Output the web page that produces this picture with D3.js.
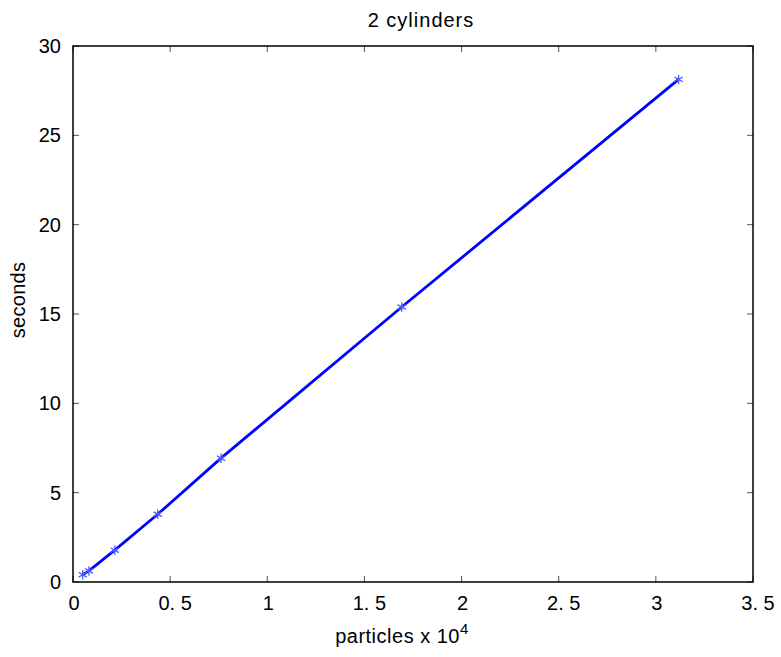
<!DOCTYPE html>
<html><head><meta charset="utf-8">
<script src="https://cdn.jsdelivr.net/npm/d3@7"></script>
<style>body{margin:0;background:#fff}svg{display:block}text{font-family:"Liberation Sans",Arial,sans-serif;fill:#000}</style>
</head><body>
<svg id="c" width="781" height="657"></svg>
<script>
const particles = [0.05, 0.082, 0.215, 0.436, 0.762, 1.692, 3.117];
const seconds = [0.41, 0.62, 1.78, 3.79, 6.93, 15.39, 28.13];
const xTicks = [0, 0.5, 1, 1.5, 2, 2.5, 3, 3.5];
const xTickLabels = ["0", "0. 5", "1", "1. 5", "2", "2. 5", "3", "3. 5"];
const yTicks = [0, 5, 10, 15, 20, 25, 30];
const yTickLabels = ["0", "5", "10", "15", "20", "25", "30"];
const title = "2 cylinders";
const yLabel = "seconds";

const svg = d3.select("#c");
const L = 73, R = 753, T = 46, B = 582;
const x = d3.scaleLinear().domain([0, 3.5]).range([L, R]);
const y = d3.scaleLinear().domain([0, 30]).range([B, T]);
const tl = 6, fs = 20;

// ticks inside on all sides
const g = svg.append("g").attr("stroke", "#555").attr("stroke-width", 1);
xTicks.forEach(v => {
  g.append("line").attr("x1", x(v)).attr("x2", x(v)).attr("y1", B).attr("y2", B - tl);
  g.append("line").attr("x1", x(v)).attr("x2", x(v)).attr("y1", T).attr("y2", T + tl);
});
yTicks.forEach(v => {
  g.append("line").attr("y1", y(v)).attr("y2", y(v)).attr("x1", L).attr("x2", L + tl);
  g.append("line").attr("y1", y(v)).attr("y2", y(v)).attr("x1", R).attr("x2", R - tl);
});
// box
svg.append("rect").attr("x", L).attr("y", T).attr("width", R - L).attr("height", B - T)
  .attr("fill", "none").attr("stroke", "#000").attr("stroke-width", 1.5);

// tick labels
xTicks.forEach((v, i) => {
  const lab = xTickLabels[i];
  svg.append("text").attr("x", x(v) + (lab.length > 1 ? 5 : 1)).attr("y", 610)
    .attr("text-anchor", "middle").attr("font-size", fs).text(lab);
});
yTicks.forEach((v, i) => {
  svg.append("text").attr("x", 61).attr("y", y(v) + 7)
    .attr("text-anchor", "end").attr("font-size", fs).text(yTickLabels[i]);
});

// line
const line = d3.line().x((d, i) => x(particles[i])).y(d => y(d));
svg.append("path").datum(seconds).attr("d", line).attr("fill", "none")
  .attr("stroke", "#0000ff").attr("stroke-width", 2.8);

// asterisk markers
const star = d3.symbol().type(d3.symbolAsterisk).size(64);
seconds.forEach((s, i) => {
  svg.append("path").attr("d", star).attr("transform", `translate(${x(particles[i])},${y(s)})`)
    .attr("fill", "none").attr("stroke", "#4a5cff").attr("stroke-width", 1.3);
});

// title
svg.append("text").attr("x", 421).attr("y", 27).attr("text-anchor", "middle")
  .attr("font-size", fs).attr("letter-spacing", 1).text(title);
// x label
const xl = svg.append("text").attr("x", 402).attr("y", 643).attr("text-anchor", "middle")
  .attr("font-size", fs).attr("letter-spacing", 0.5);
xl.append("tspan").text("particles x 10");
xl.append("tspan").attr("dy", -9).attr("font-size", 15).text("4");
// y label
svg.append("text").attr("transform", "translate(25,300) rotate(-90)").attr("text-anchor", "middle")
  .attr("font-size", fs).attr("letter-spacing", 0.3).text(yLabel);
</script>
</body></html>
